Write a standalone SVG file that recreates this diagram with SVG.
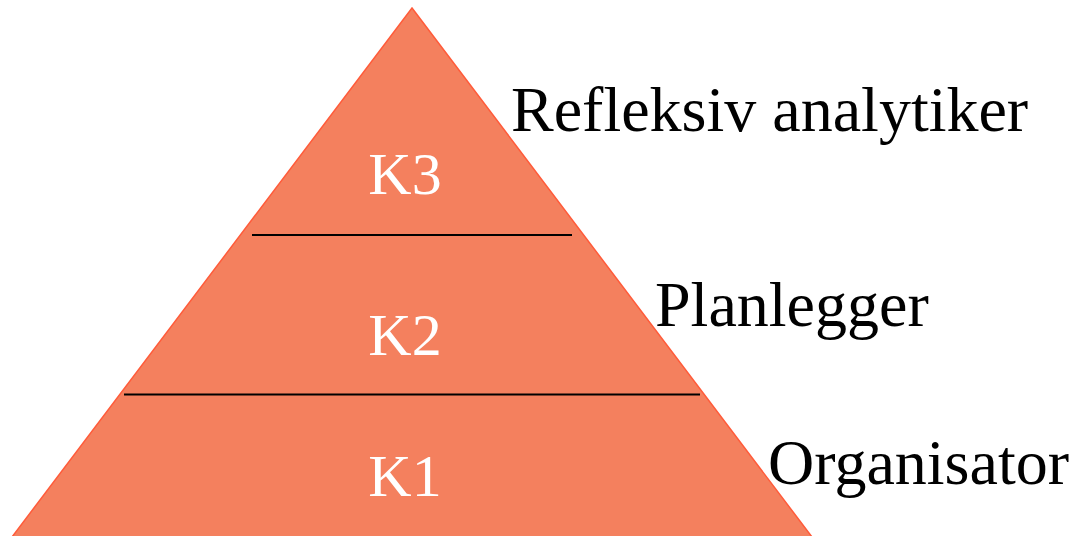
<svg xmlns="http://www.w3.org/2000/svg" width="1074" height="536" viewBox="0 0 1074 536">
<style>
.tri{fill:#F4805E;stroke:#FF5B3A;stroke-width:1.5}
.div{stroke:#000;stroke-width:2}
.k{font-family:"Liberation Serif","Times New Roman",serif;font-size:60px;fill:#fff;text-anchor:middle}
.lbl{font-family:"Liberation Serif","Times New Roman",serif;font-size:64px;fill:#000}
</style>
<rect width="1074" height="536" fill="#fff"/>
<g id="pyramid">
<polygon class="tri" points="412,8 812,537 12,537"/>
</g>
<g id="connectors">
<line class="div" x1="252" y1="235" x2="572" y2="235"/>
<line class="div" x1="124" y1="394.5" x2="700" y2="394.5"/>
</g>
<g id="k3"><text class="k" x="405" y="194">K3</text></g>
<g id="k2"><text class="k" x="405" y="355">K2</text></g>
<g id="k1"><text class="k" x="405" y="496">K1</text></g>
<g id="label-refleksiv"><text class="lbl" x="511" y="131">Refleksiv analytiker</text></g>
<g id="label-planlegger"><text class="lbl" x="655" y="326">Planlegger</text></g>
<g id="label-organisator"><text class="lbl" x="768" y="484">Organisator</text></g>
</svg>
